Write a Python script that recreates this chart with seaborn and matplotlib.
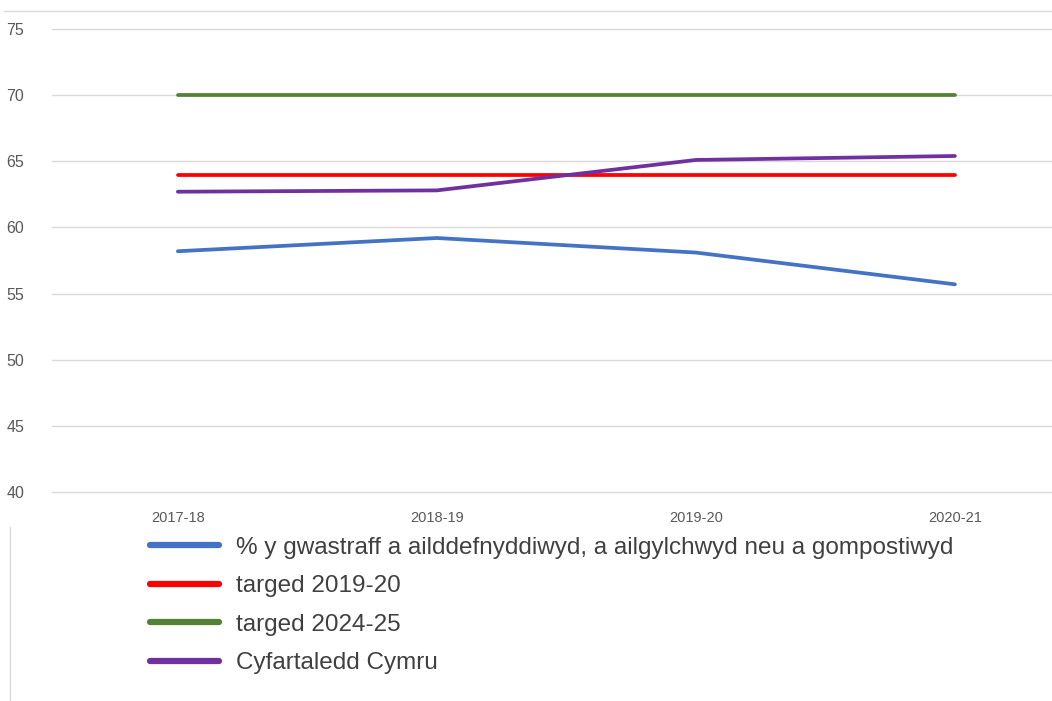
import pandas as pd
import matplotlib
matplotlib.use('Agg')
import matplotlib.pyplot as plt
import seaborn as sns
from matplotlib.lines import Line2D

# Values
years = ['2017-18', '2018-19', '2019-20', '2020-21']
recycled = [58.2, 59.2, 58.1, 55.7]
target_2019 = [64.0, 64.0, 64.0, 64.0]
target_2024 = [70.0, 70.0, 70.0, 70.0]
wales_avg = [62.7, 62.8, 65.1, 65.4]

series_names = ['% y gwastraff a ailddefnyddiwyd, a ailgylchwyd neu a gompostiwyd',
                'targed 2019-20', 'targed 2024-25', 'Cyfartaledd Cymru']
colours = ['#4472C4', '#FF0000', '#548235', '#7030A0']
y_ticks = [40, 45, 50, 55, 60, 65, 70, 75]

# Long-form table for seaborn
frames = []
for name, vals in zip(series_names, [recycled, target_2019, target_2024, wales_avg]):
    frames.append(pd.DataFrame({'year': years, 'value': vals, 'series': name}))
df = pd.concat(frames, ignore_index=True)

sns.set_style('white')
plt.rcParams['font.family'] = ['Liberation Sans', 'DejaVu Sans']

fig = plt.figure(figsize=(10.52, 7.01), dpi=100)
ax = fig.add_axes([52 / 1052, 1 - 492 / 701, 1 - 52 / 1052, (492 - 29) / 701])

sns.lineplot(data=df, x='year', y='value', hue='series', palette=colours,
             hue_order=series_names, sort=False, linewidth=2.7, ax=ax,
             legend=False)
for line in ax.lines:
    line.set_solid_capstyle('round')

ax.set_xlim(-0.486, 3.375)
ax.set_ylim(40, 75)
ax.set_yticks(y_ticks)
ax.yaxis.grid(True, color='#d9d9d9', linewidth=1.0)
for gl in ax.get_ygridlines():
    gl.set_clip_on(False)
ax.xaxis.grid(False)
ax.set_axisbelow(True)
for s in ax.spines.values():
    s.set_visible(False)
ax.set_xlabel('')
ax.set_ylabel('')
ax.tick_params(axis='y', length=0, pad=20, labelsize=11.5, labelcolor='#595959')
ax.tick_params(axis='x', length=0, pad=14, labelsize=10.5, labelcolor='#595959')

# Thin border lines of the original chart frame
fig.add_artist(Line2D([4 / 1052, 1], [1 - 11 / 701, 1 - 11 / 701],
                      color='#d9d9d9', linewidth=1.0))
fig.add_artist(Line2D([10 / 1052, 10 / 1052], [0, 1 - 527 / 701],
                      color='#d9d9d9', linewidth=1.0))

handles = [Line2D([0], [0], color=c, linewidth=4.5, solid_capstyle='round')
           for c in colours]
leg = fig.legend(handles, series_names, loc='upper left',
                 bbox_to_anchor=(140 / 1052, 1 - 527 / 701), frameon=False,
                 fontsize=17.5, handlelength=2.85, handletextpad=0.7,
                 labelspacing=0.68, borderaxespad=0)
for t in leg.get_texts():
    t.set_color('#404040')

fig.savefig('out.png', dpi=100)
